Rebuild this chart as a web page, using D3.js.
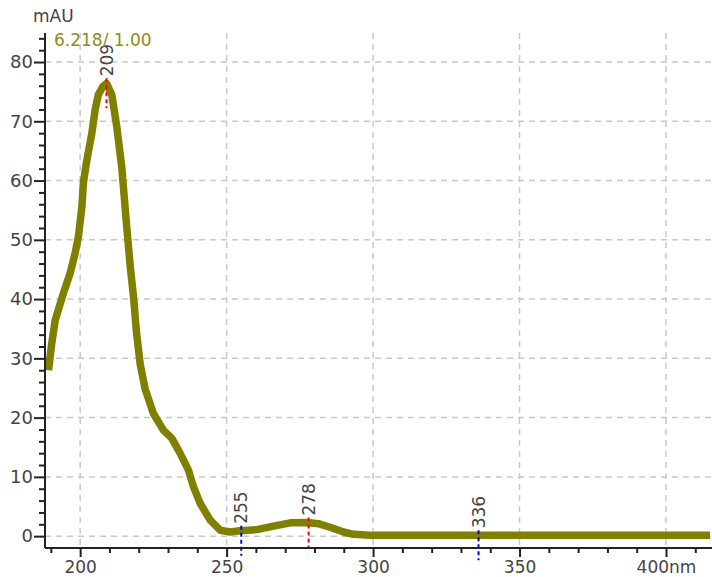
<!DOCTYPE html>
<html>
<head>
<meta charset="utf-8">
<script src="https://cdn.jsdelivr.net/npm/d3@7"></script>
<style>
  body { margin: 0; background: #fff; }
  svg text { font-family: "DejaVu Sans", sans-serif; }
</style>
</head>
<body>
<svg id="chart" width="712" height="577"></svg>
<script>
// spectrum (nm, mAU)
const wavelength = [189.2, 190.3, 191.5, 194.3, 196.6, 198.3, 199.4, 200.6, 201.1, 202.3,
    204, 205.1, 206.2, 207.8, 209, 210.8, 212.5, 214.2, 215.9, 217.1,
    218.3, 219.2, 220.5, 222.2, 225, 228.4, 231.3, 234.1, 237, 238.7,
    241, 244.4, 247.8, 251.2, 254.6, 260.3, 266, 271.7, 277.4, 281.3,
    285.3, 289.9, 293.3, 299, 310, 330, 350, 370, 390, 415];
const absorbance = [28, 32.5, 36.5, 41, 44.4, 47.8, 50.5, 55.6, 59.6, 63.5,
    68, 71.9, 74.5, 75.9, 76.4, 74.5, 69.1, 62.3, 52.2, 45.5,
    40, 34.5, 29, 24.8, 20.7, 17.9, 16.5, 14, 11.1, 8.3,
    5.5, 2.7, 1.0, 0.7, 0.9, 1.1, 1.7, 2.25, 2.3, 2.1,
    1.5, 0.7, 0.3, 0.15, 0.15, 0.15, 0.15, 0.15, 0.15, 0.15];

// peak markers
const peakNm = [209, 255, 278, 336];
const peakAbs = [76.4, 0.9, 2.3, 0.15];
const peakColor = ["#ff0000", "#0000ff", "#ff0000", "#0000ff"];

const xTicks = [200, 250, 300, 350, 400];
const yTicks = [0, 10, 20, 30, 40, 50, 60, 70, 80];

const svg = d3.select("#chart");
const plotLeft = 45, plotRight = 712, plotTop = 33, plotBottom = 548;

let x = d3.scaleLinear().domain([188, 415.7]).range([plotLeft, plotRight]);
let y = d3.scaleLinear().domain([-2, 84.9]).range([plotBottom, plotTop]);

//grid
let grid = svg.append("g")
    .attr("stroke", "#c8c8c8")
    .attr("stroke-width", 1.5)
    .attr("stroke-dasharray", "6,5");
grid.selectAll(".vg").data(xTicks).enter().append("line")
    .attr("x1", d => x(d)).attr("x2", d => x(d))
    .attr("y1", plotTop).attr("y2", plotBottom);
grid.selectAll(".hg").data(yTicks).enter().append("line")
    .attr("x1", plotLeft).attr("x2", plotRight)
    .attr("y1", d => y(d)).attr("y2", d => y(d));

// curve
let points = wavelength.map((w, i) => [w, absorbance[i]]);
svg.append("path")
    .datum(points)
    .attr("fill", "none")
    .attr("stroke", "#808000")
    .attr("stroke-width", 7.5)
    .attr("stroke-linejoin", "round")
    .attr("d", d3.line().x(d => x(d[0])).y(d => y(d[1])));

// peak markers and labels
peakNm.forEach(function (nm, i) {
    let px = x(nm), py = y(peakAbs[i]);
    svg.append("line")
        .attr("x1", px).attr("x2", px)
        .attr("y1", py - 5).attr("y2", py + 25)
        .attr("stroke", peakColor[i])
        .attr("stroke-width", 2)
        .attr("stroke-dasharray", "4,3");
    svg.append("text")
        .attr("transform", "translate(" + (px + 6) + "," + (py - 7) + ") rotate(-90)")
        .attr("font-size", 17)
        .attr("fill", "#444")
        .text(nm);
});

// axes
let xAxis = d3.axisBottom(x)
    .tickValues(d3.range(190, 416, 10))
    .tickSize(0)
    .tickFormat(d => d % 50 === 0 ? (d === 400 ? d + "nm" : d) : "");
let gx = svg.append("g")
    .attr("transform", "translate(0," + plotBottom + ")")
    .call(xAxis);
gx.select(".domain").attr("stroke", "#222").attr("stroke-width", 2)
    .attr("d", "M" + plotLeft + ",0H" + plotRight);
gx.selectAll(".tick line")
    .attr("y2", d => d % 50 === 0 ? 9 : 5)
    .attr("stroke", "#222").attr("stroke-width", 2);
gx.selectAll(".tick text")
    .attr("y", 0)
    .attr("dy", 0)
    .attr("transform", "translate(0,25)")
    .attr("font-family", "DejaVu Sans")
    .attr("font-size", 17)
    .attr("fill", "#444");

let yAxis = d3.axisLeft(y)
    .tickValues(d3.range(0, 85, 2))
    .tickSize(0)
    .tickFormat(d => d % 10 === 0 ? d : "");
let gy = svg.append("g")
    .attr("transform", "translate(" + plotLeft + ",0)")
    .call(yAxis);
gy.select(".domain").attr("stroke", "#222").attr("stroke-width", 2)
    .attr("d", "M0," + plotTop + "V" + plotBottom);
gy.selectAll(".tick line")
    .attr("x2", d => d % 10 === 0 ? -11 : -6)
    .attr("stroke", "#222").attr("stroke-width", 2);
gy.selectAll(".tick text")
    .attr("x", -12)
    .attr("font-family", "DejaVu Sans")
    .attr("font-size", 18)
    .attr("fill", "#444");

svg.append("text")
    .attr("x", 33).attr("y", 22)
    .attr("font-size", 17)
    .attr("fill", "#444")
    .text("mAU");
svg.append("text")
    .attr("x", 54).attr("y", 46)
    .attr("font-size", 17)
    .attr("fill", "#8c8c20")
    .text("6.218/ 1.00");
</script>
</body>
</html>
